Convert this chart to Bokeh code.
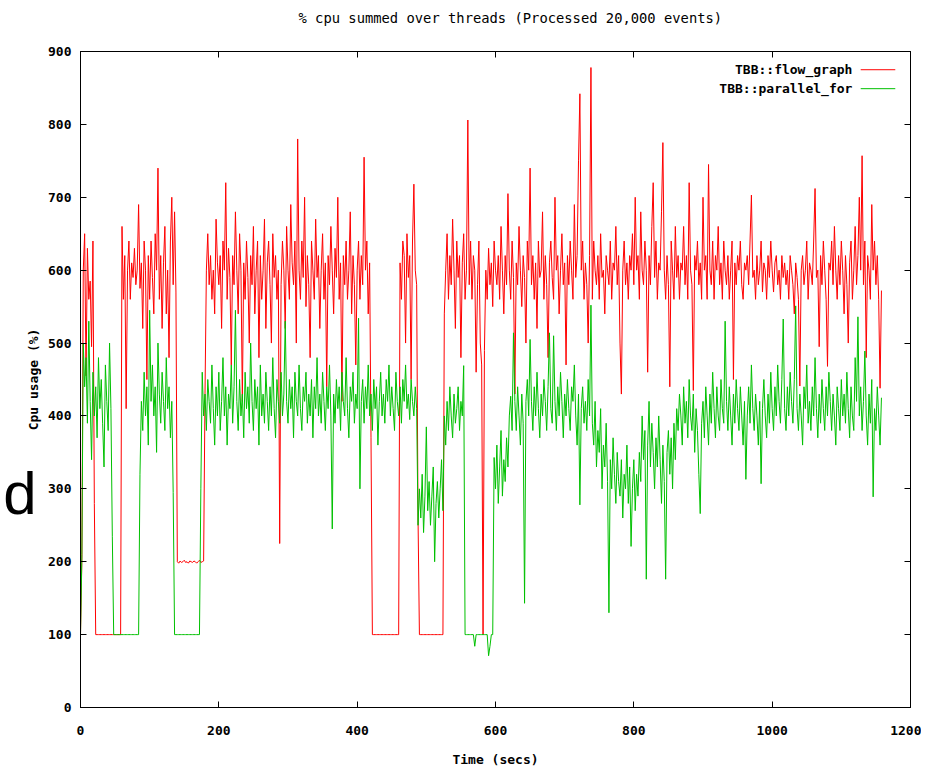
from bokeh.plotting import figure
from bokeh.models import Range1d, FixedTicker, LinearAxis, Label, Arrow
from bokeh.embed import file_html
from bokeh.resources import INLINE

# ---------------- data ----------------
sample_step = 2  # seconds between samples

flow_graph_cpu = [
    100, 205, 600, 650, 455, 630, 560, 585, 495, 640,
    280, 100, 100, 100, 100, 100, 100, 100, 100, 100,
    100, 100, 100, 100, 100, 100, 100, 100, 100, 100,
    660, 560, 620, 410, 600, 640, 560, 610, 590, 630,
    580, 600, 690, 575, 610, 520, 640, 600, 450, 620,
    560, 640, 590, 540, 650, 600, 740, 560, 620, 520,
    610, 660, 540, 600, 480, 640, 700, 580, 680, 570,
    200, 198, 201, 199, 200, 202, 199, 200, 198, 201,
    200, 199, 201, 200, 198, 200, 202, 199, 200, 201,
    430, 600, 650, 580, 620, 560, 600, 540, 670, 610,
    580, 620, 520, 640, 600, 720, 560, 630, 590, 470,
    620, 580, 680, 600, 540, 650, 600, 420, 610, 560,
    640, 590, 500, 620, 580, 660, 540, 600, 640, 480,
    620, 560, 600, 670, 520, 610, 640, 580, 500, 650,
    590, 620, 560, 600, 225, 580, 640, 600, 520, 660,
    600, 560, 690, 610, 580, 640, 500, 780, 600, 560,
    640, 590, 700, 550, 620, 580, 480, 640, 600, 560,
    670, 590, 620, 520, 600, 650, 560, 610, 440, 620,
    580, 660, 600, 540, 630, 590, 700, 560, 610, 420,
    620, 580, 640, 560, 600, 680, 540, 620, 580, 470,
    600, 640, 560, 620, 580, 755, 600, 640, 540, 610,
    370, 100, 100, 100, 100, 100, 100, 100, 100, 100,
    100, 100, 100, 100, 100, 100, 100, 100, 100, 100,
    100, 610, 560, 640, 620, 500, 650, 590, 620, 450,
    640, 718, 600, 580, 260, 100, 100, 100, 100, 100,
    100, 100, 100, 100, 100, 100, 100, 100, 100, 100,
    100, 100, 100, 540, 600, 650, 560, 620, 580, 670,
    600, 520, 640, 590, 620, 480, 610, 650, 560, 600,
    806, 580, 640, 560, 620, 600, 460, 580, 640, 500,
    470, 100, 490, 600, 560, 630, 580, 610, 550, 640,
    600, 580, 620, 560, 660, 600, 540, 620, 580, 705,
    600, 560, 640, 590, 430, 610, 580, 660, 600, 550,
    620, 590, 500, 640, 600, 740, 580, 620, 560, 610,
    520, 640, 590, 600, 680, 560, 620, 580, 480, 610,
    640, 590, 560, 700, 600, 620, 540, 600, 650, 580,
    610, 470, 620, 580, 640, 600, 560, 690, 590, 620,
    750, 842, 600, 640, 560, 610, 580, 500, 620, 878,
    560, 640, 600, 580, 620, 560, 650, 590, 600, 540,
    620, 600, 580, 640, 560, 610, 600, 660, 580, 620,
    500, 430, 600, 640, 580, 610, 560, 620, 600, 650,
    580, 700, 600, 620, 560, 680, 600, 580, 640, 600,
    460, 620, 580, 660, 720, 590, 640, 560, 610, 600,
    680, 775, 600, 560, 620, 580, 440, 640, 600, 560,
    660, 590, 620, 560, 610, 600, 660, 580, 620, 560,
    720, 600, 580, 435, 620, 600, 640, 580, 610, 560,
    700, 600, 620, 560, 745, 600, 580, 640, 560, 620,
    600, 660, 580, 610, 560, 640, 600, 580, 620, 560,
    600, 640, 450, 610, 580, 620, 600, 640, 580, 560,
    610, 600, 620, 580, 640, 703, 590, 600, 560, 620,
    580, 600, 640, 570, 610, 600, 560, 620, 590, 640,
    600, 570, 610, 620, 580, 600, 560, 620, 590, 610,
    580, 600, 560, 620, 600, 580, 540, 610, 590, 560,
    441, 600, 620, 580, 600, 640, 560, 610, 600, 580,
    640, 712, 590, 600, 495, 620, 580, 640, 600, 560,
    468, 610, 600, 640, 580, 660, 600, 560, 620, 580,
    640, 600, 540, 620, 580, 500, 610, 640, 560, 600,
    660, 580, 620, 700, 600, 757, 580, 640, 480, 620,
    600, 560, 690, 600, 640, 580, 620, 560, 438, 572,
]

parallel_for_cpu = [
    100, 210, 500, 440, 480, 390, 530, 420, 340, 460,
    400, 440, 370, 480, 410, 450, 390, 330, 470, 420,
    380, 500, 410, 235, 100, 100, 100, 100, 100, 100,
    100, 100, 100, 100, 100, 100, 100, 100, 100, 100,
    100, 100, 100, 320, 420, 380, 460, 400, 440, 360,
    545, 420, 470, 400, 440, 350, 500, 430, 390, 460,
    420, 380, 480, 410, 440, 370, 420, 295, 100, 100,
    100, 100, 100, 100, 100, 100, 100, 100, 100, 100,
    100, 100, 100, 100, 100, 100, 100, 300, 460, 400,
    430, 380, 450, 420, 390, 470, 410, 360, 440, 400,
    460, 380, 420, 480, 400, 440, 360, 430, 410, 470,
    390, 440, 545, 420, 380, 450, 400, 430, 370, 460,
    410, 440, 390, 500, 420, 380, 450, 410, 440, 360,
    470, 400, 430, 390, 460, 420, 380, 440, 400, 480,
    410, 370, 450, 420, 390, 460, 400, 430, 530, 420,
    390, 450, 410, 440, 370, 460, 420, 400, 470, 410,
    380, 440, 420, 460, 390, 430, 400, 450, 370, 440,
    410, 480, 400, 430, 390, 460, 420, 380, 440, 410,
    470, 400, 245, 430, 390, 450, 410, 440, 380, 460,
    420, 400, 480, 410, 370, 440, 420, 460, 390, 430,
    410, 534, 300, 420, 450, 390, 440, 410, 470, 400,
    430, 380, 450, 410, 440, 360, 420, 460, 400, 430,
    390, 450, 420, 470, 400, 440, 410, 380, 460, 420,
    400, 440, 390, 450, 420, 470, 410, 430, 395, 450,
    420, 400, 440, 410, 250, 300, 260, 320, 240, 290,
    385, 270, 310, 250, 290, 330, 200, 280, 310, 260,
    300, 340, 270, 400, 360, 420, 380, 440, 400, 370,
    430, 390, 410, 440, 380, 420, 400, 469, 100, 100,
    100, 100, 100, 100, 100, 84, 100, 100, 100, 100,
    100, 100, 100, 100, 100, 71, 84, 100, 100, 343,
    300, 360, 280, 330, 380, 290, 340, 310, 370, 330,
    400, 427, 380, 514, 420, 380, 440, 400, 360, 430,
    390, 143, 420, 450, 400, 505, 420, 380, 440, 400,
    460, 410, 370, 430, 400, 450, 420, 380, 440, 514,
    410, 390, 510, 420, 380, 440, 400, 460, 420, 370,
    430, 400, 450, 410, 380, 440, 420, 470, 400, 360,
    430, 278, 410, 440, 390, 420, 380, 450, 400, 552,
    390, 360, 420, 330, 380, 350, 410, 300, 360, 330,
    390, 310, 130, 340, 300, 370, 320, 280, 350, 310,
    290, 340, 260, 320, 300, 360, 280, 330, 221, 300,
    340, 270, 320, 290, 350, 310, 400, 340, 380, 176,
    360, 420, 330, 390, 350, 300, 370, 330, 400, 340,
    280, 360, 310, 176, 350, 380, 320, 370, 300, 390,
    340, 410, 380, 430, 400, 360, 440, 390, 420, 370,
    450, 400, 380, 430, 350, 410, 380, 320, 266, 390,
    420, 370, 440, 400, 360, 430, 390, 460, 410, 370,
    440, 400, 380, 450, 410, 390, 530, 420, 380, 440,
    400, 360, 430, 390, 450, 410, 380, 440, 400, 360,
    420, 313, 400, 440, 390, 470, 410, 380, 430, 400,
    360, 420, 307, 410, 450, 400, 370, 430, 390, 460,
    410, 380, 440, 400, 470, 420, 390, 450, 533, 410,
    380, 440, 400, 460, 420, 390, 450, 551, 410, 380,
    430, 400, 360, 440, 410, 470, 390, 420, 380, 440,
    400, 480, 410, 370, 430, 390, 450, 410, 380, 440,
    400, 460, 420, 380, 430, 400, 360, 440, 410, 380,
    450, 400, 430, 390, 460, 410, 370, 440, 400, 380,
    480, 420, 536, 400, 440, 380, 420, 489, 400, 360,
    430, 390, 450, 289, 410, 380, 440, 400, 360, 425,
]

series_names = ["TBB::flow_graph", "TBB::parallel_for"]
x_ticks = [0, 200, 400, 600, 800, 1000, 1200]
y_ticks = [0, 100, 200, 300, 400, 500, 600, 700, 800, 900]
title_text = "% cpu summed over threads (Processed 20,000 events)"
x_label = "Time (secs)"
y_label = "Cpu usage (%)"
stray_text = "d"          # stray letter in the left margin of the reference
stray_text_level = 294    # its vertical position, in y-axis units

times = [i * sample_step for i in range(len(flow_graph_cpu))]

# ---------------- figure ----------------
FONT = "DejaVu Sans Mono"
RED = "#ff0000"
GREEN = "#00c000"

p = figure(width=921, height=769,
           x_range=Range1d(0, 1200), y_range=Range1d(0, 900),
           output_backend="svg", toolbar_location=None,
           min_border_left=79, min_border_right=11,
           min_border_top=51, min_border_bottom=62,
           background_fill_color="white", border_fill_color="white")

p.title.text = title_text
p.title.align = "left"
p.title.offset = 218
p.title.text_font = FONT
p.title.text_font_size = "13.8px"
p.title.text_font_style = "normal"
p.title.text_color = "black"
p.title.standoff = 0
try:
    # lift the title: empty space below its text
    p.title.padding = dict(left=0, right=0, top=0, bottom=26)
except Exception:
    p.title.standoff = 0

p.xgrid.grid_line_color = None
p.ygrid.grid_line_color = None
p.outline_line_color = "black"
p.outline_line_width = 1

for ax, ticks in ((p.xaxis[0], x_ticks), (p.yaxis[0], y_ticks)):
    ax.ticker = FixedTicker(ticks=ticks)
    ax.major_tick_in = 6
    ax.major_tick_out = 0
    ax.minor_tick_line_color = None
    ax.axis_line_color = "black"
    ax.major_tick_line_color = "black"
    ax.major_label_text_font = FONT
    ax.major_label_text_font_size = "13px"
    ax.major_label_text_font_style = "bold"
    ax.major_label_text_color = "black"
    ax.axis_label_text_font = FONT
    ax.axis_label_text_font_size = "13px"
    ax.axis_label_text_font_style = "bold"
    ax.axis_label_text_color = "black"

p.xaxis.axis_label = x_label
p.xaxis.major_label_standoff = 18
p.xaxis.axis_label_standoff = 14
p.yaxis.axis_label = y_label
p.yaxis.major_label_standoff = 9
p.yaxis.axis_label_standoff = 4

# mirror ticks on top and right (no labels)
for loc, ticks in (("right", y_ticks), ("above", x_ticks)):
    mirror = LinearAxis(ticker=FixedTicker(ticks=ticks),
                        major_label_overrides={t: "" for t in ticks},
                        major_label_text_font_size="0px",
                        major_label_standoff=0,
                        major_tick_in=6, major_tick_out=0,
                        minor_tick_line_color=None,
                        axis_line_color="black",
                        major_tick_line_color="black")
    p.add_layout(mirror, loc)

# stray letter "d" in the left margin, carried by an extra label-only axis
stray = LinearAxis(ticker=FixedTicker(ticks=[stray_text_level]),
                   major_label_overrides={stray_text_level: stray_text},
                   major_label_text_font="Liberation Sans",
                   major_label_text_font_size="60px",
                   major_label_text_font_style="normal",
                   major_label_text_color="black",
                   major_label_standoff=-13,
                   major_tick_in=0, major_tick_out=0,
                   major_tick_line_color=None,
                   minor_tick_line_color=None,
                   axis_line_color=None)
p.add_layout(stray, "left")

p.line(times, flow_graph_cpu, line_color=RED, line_width=1)
p.line(times, parallel_for_cpu, line_color=GREEN, line_width=1)

# legend (text right-aligned, sample line to its right, as in gnuplot)
for name, color, ly in ((series_names[0], RED, 875), (series_names[1], GREEN, 849)):
    p.add_layout(Label(x=1116, y=ly, text=name, text_align="right",
                       text_baseline="middle", text_font=FONT,
                       text_font_size="13px", text_font_style="bold",
                       text_color="black"))
    p.add_layout(Arrow(end=None, x_start=1128, y_start=ly, x_end=1178, y_end=ly,
                       line_color=color, line_width=1))

open("out.html", "w").write(file_html(p, INLINE))
